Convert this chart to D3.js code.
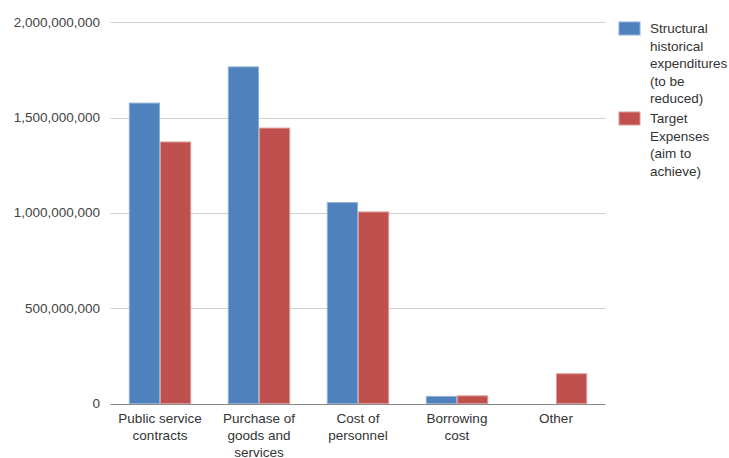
<!DOCTYPE html>
<html>
<head>
<meta charset="utf-8">
<script src="https://cdn.jsdelivr.net/npm/d3@7"></script>
<style>
  html, body { margin: 0; padding: 0; background: #fff; }
  svg { display: block; font-family: "Liberation Sans", Arial, sans-serif; }
</style>
</head>
<body>
<div id="chart"></div>
<script>
// ── Data ───────────────────────────────────────────────────────────────
const categories = [
  ["Public service", "contracts"],
  ["Purchase of", "goods and", "services"],
  ["Cost of", "personnel"],
  ["Borrowing", "cost"],
  ["Other"]
];
const seriesNames = [
  ["Structural", "historical", "expenditures", "(to be", "reduced)"],
  ["Target", "Expenses", "(aim to", "achieve)"]
];
const structuralValues = [1576000000, 1766000000, 1054000000, 37000000, 0];
const targetValues     = [1372000000, 1445000000, 1005000000, 40000000, 156000000];
const yTicks = [0, 500000000, 1000000000, 1500000000, 2000000000];
const colors = ["#4f81bd", "#c0504d"];
const strokes = ["#8fb0d8", "#d99a98"];

// ── Layout ─────────────────────────────────────────────────────────────
const W = 729, H = 458;
const plot = { left: 110.5, right: 605.5, top: 22.3, bottom: 403.5 };

const svg = d3.select("#chart").append("svg")
    .attr("width", W)
    .attr("height", H);

const x = d3.scaleBand()
    .domain(d3.range(categories.length))
    .range([plot.left, plot.right])
    .paddingInner(0.37)
    .paddingOuter(0.185);

const xInner = d3.scaleBand()
    .domain([0, 1])
    .range([0, x.bandwidth()]);

const y = d3.scaleLinear()
    .domain([0, 2000000000])
    .range([plot.bottom, plot.top]);

// Gridlines
svg.append("g")
    .selectAll("line")
    .data(yTicks.slice(1))
    .join("line")
    .attr("x1", plot.left)
    .attr("x2", plot.right)
    .attr("y1", d => Math.round(y(d)) + 0.5)
    .attr("y2", d => Math.round(y(d)) + 0.5)
    .style("stroke", "#d0d0d0")
    .style("stroke-width", 1);

// Y axis labels
const fmt = d3.format(",");
svg.append("g")
    .selectAll("text")
    .data(yTicks)
    .join("text")
    .attr("x", 100)
    .attr("y", d => y(d) + 4.5)
    .style("text-anchor", "end")
    .style("font-size", "13.5px")
    .style("fill", "#444")
    .text(d => fmt(d));

// Bars
const seriesValues = [structuralValues, targetValues];
const groups = svg.append("g")
    .selectAll("g")
    .data(categories.map((c, i) => i))
    .join("g")
    .attr("transform", i => `translate(${x(i)},0)`);

groups.selectAll("rect")
    .data(i => seriesValues.map((vals, s) => ({ s, v: vals[i] })).filter(d => d.v > 0))
    .join("rect")
    .attr("x", d => xInner(d.s) + 0.5)
    .attr("y", d => y(d.v))
    .attr("width", xInner.bandwidth() - 1)
    .attr("height", d => y(0) - y(d.v))
    .style("fill", d => colors[d.s])
    .style("stroke", d => strokes[d.s])
    .style("stroke-width", 1);

// Baseline
svg.append("line")
    .attr("x1", plot.left)
    .attr("x2", plot.right)
    .attr("y1", Math.round(y(0)) + 0.5)
    .attr("y2", Math.round(y(0)) + 0.5)
    .style("stroke", "#888")
    .style("stroke-width", 1.2);

// Category labels
const catLabels = svg.append("g")
    .selectAll("text")
    .data(categories)
    .join("text")
    .attr("x", (d, i) => x(i) + x.bandwidth() / 2)
    .attr("y", 422.5)
    .style("text-anchor", "middle")
    .style("font-size", "13.5px")
    .style("fill", "#333");

catLabels.selectAll("tspan")
    .data(d => d)
    .join("tspan")
    .attr("x", function() { return d3.select(this.parentNode).attr("x"); })
    .attr("dy", (d, i) => i === 0 ? 0 : 17)
    .text(d => d);

// ── Legend ─────────────────────────────────────────────────────────────
const legendTops = [22, 112];
const legend = svg.append("g")
    .selectAll("g")
    .data(seriesNames)
    .join("g")
    .attr("transform", (d, i) => `translate(619,${legendTops[i]})`);

legend.append("rect")
    .attr("width", 21)
    .attr("height", 13)
    .style("fill", (d, i) => colors[i])
    .style("stroke", (d, i) => strokes[i])
    .style("stroke-width", 1);

legend.append("text")
    .attr("x", 31)
    .attr("y", 11)
    .style("font-size", "13.5px")
    .style("fill", "#333")
    .selectAll("tspan")
    .data(d => d)
    .join("tspan")
    .attr("x", 31)
    .attr("dy", (d, i) => i === 0 ? 0 : 17.5)
    .text(d => d);
</script>
</body>
</html>
